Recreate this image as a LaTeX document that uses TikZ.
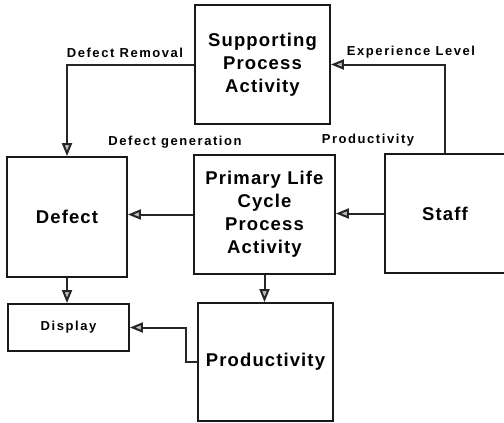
\documentclass[tikz,border=0pt]{standalone}
\usepackage{fontspec}
\setmainfont{Liberation Sans}
\newfontfamily\spacedfont{Liberation Sans}[LetterSpace=6]
\newfontfamily\labelfont{Liberation Sans}[LetterSpace=12]
\usetikzlibrary{arrows.meta}
\tikzset{
  box/.style={draw=black!90, line width=1.8pt, rectangle, align=center, inner sep=0pt,
    font=\spacedfont\bfseries\fontsize{18.5}{23}\selectfont},
  smallbox/.style={draw=black!90, line width=1.8pt, rectangle, align=center, inner sep=0pt,
    font=\labelfont\bfseries\fontsize{13}{16}\selectfont},
  lbl/.style={font=\labelfont\bfseries\fontsize{13}{16}\selectfont, inner sep=0pt},
  conn/.style={-{Triangle[length=13pt, width=10pt, fill=gray!50]}, draw=black!85, line width=2pt},
}
\begin{document}
\begin{tikzpicture}[x=1pt, y=-1pt]
\useasboundingbox (0,0) rectangle (504,423);
\clip (0,0) rectangle (504,423);
\node[box, minimum width=135pt, minimum height=119pt] (sup) at (262.5,64.5) {Supporting\\Process\\Activity};
\node[box, minimum width=120pt, minimum height=120pt] (defect) at (67,217) {Defect};
\node[box, minimum width=141pt, minimum height=119pt] (prim) at (264.5,214.5) {Primary Life\\Cycle\\Process\\Activity};
\node[box, minimum width=120pt, minimum height=119pt] (staff) at (445,213.5) {Staff};
\node[smallbox, minimum width=121pt, minimum height=47pt] (disp) at (68.5,327.5) {Display};
\node[box, minimum width=135pt, minimum height=118pt] (prod) at (265.5,362) {Productivity};

\node[lbl] (l1) at (125,53) {Defect Removal};
\node[lbl] (l2) at (411,52) {Experience Level};
\node[lbl] (l3) at (175,142) {Defect generation};
\node[lbl] (l4) at (368,140) {Productivity};

\draw[conn] (sup.west) -| (defect.north);
\draw[conn] (staff.north) |- (sup.east);
\draw[conn] (staff.west) -- (staff.west -| prim.east);
\draw[conn] (prim.west) -- (prim.west -| defect.east);
\draw[conn] (prim.south) -- (prim.south |- prod.north);
\draw[conn] (defect.south) -- (defect.south |- disp.north);
\draw[conn] (prod.west) -- ++(-11,0) |- (disp.east);
\end{tikzpicture}
\end{document}
